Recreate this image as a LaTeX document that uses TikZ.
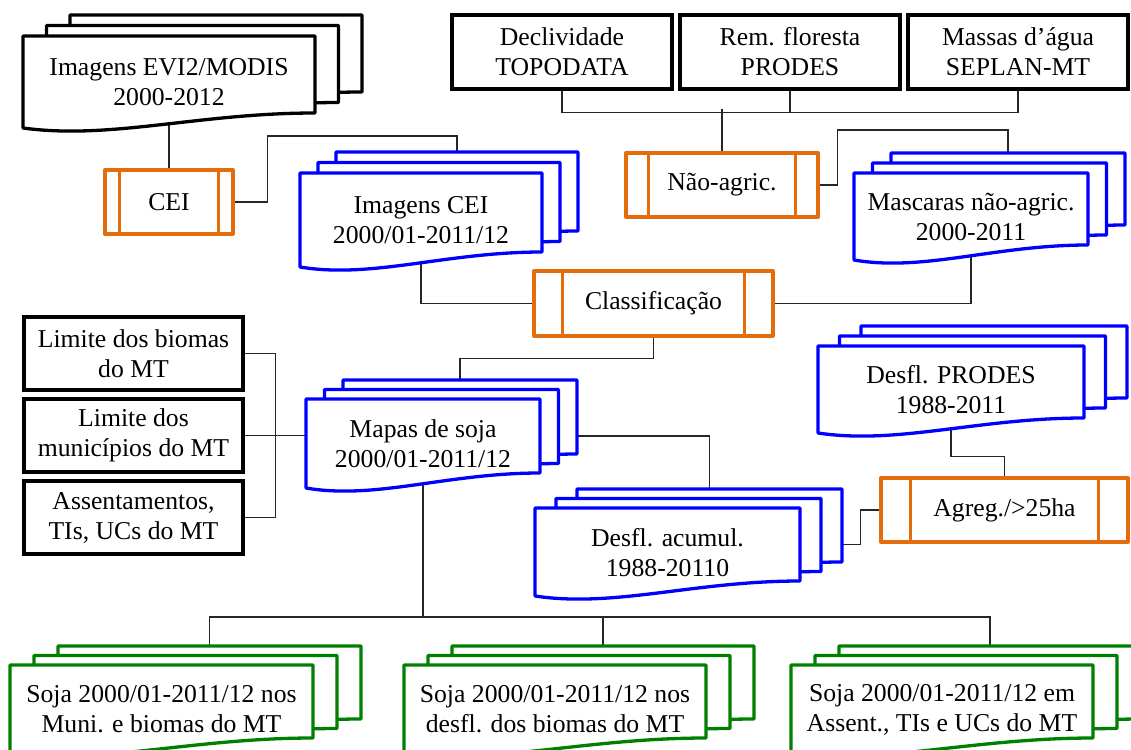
\documentclass[tikz,border=0pt]{standalone}
\usepackage{fontspec}
\setmainfont{Liberation Serif}
\usetikzlibrary{calc}
\pgfdeclarelayer{bg}
\pgfsetlayers{bg,main}
\definecolor{procorange}{RGB}{228,108,10}
\definecolor{docblue}{RGB}{0,0,255}
\definecolor{docgreen}{RGB}{0,128,0}
\tikzset{
  conn/.style={draw=black!85, line width=1.1pt},
  boxline/.style={line width=3.3pt, line join=round},
  txt/.style={align=center, inner sep=0pt, font=\fontsize{25.7}{30}\selectfont},
  datbox/.style={draw=black, line width=3.3pt, fill=white, inner sep=0pt, align=center, font=\fontsize{25.7}{30}\selectfont},
}
% #1 name, #2 L, #3 T, #4 R, #5 B(right), #6 dx, #7 dy, #8 colour, #9 text
\newcommand\docstack[9]{%
  \foreach \k in {2,1,0}{%
    \draw[boxline, draw=#8, fill=white, shift={(\k*#6,-\k*#7)}]
      (#2,#3) -- (#4,#3) -- (#4,#5)
      .. controls ({#2+0.6*(#4-#2)},#5) and ({#2+0.3*(#4-#2)},#5+27) .. (#2,#5+15) -- cycle;
  }%
  \pgfmathsetmacro\sw{#4-#2}%
  \pgfmathsetmacro\sh{#5-#3}%
  \pgfmathsetmacro\cx{(#2+#4)/2}%
  \pgfmathsetmacro\cy{(#3+#5)/2}%
  \node[name=#1, rectangle, inner sep=0pt, minimum width=\sw pt, minimum height=\sh pt] at (\cx,\cy) {};
  \node[txt, name=#1-t] at (\cx,\cy+8) {#9};
  \coordinate (#1-top) at ({\cx+2*#6},{#3-2*#7});
  \coordinate (#1-r) at ({#4+2*#6},\cy);
}
% #1 name, #2 L, #3 T, #4 R, #5 B, #6 text
\newcommand\procbox[6]{%
  \pgfmathsetmacro\pw{#4-#2}%
  \pgfmathsetmacro\ph{#5-#3}%
  \pgfmathsetmacro\pin{0.125*(#4-#2)}%
  \node[name=#1, draw=procorange, boxline, fill=white, minimum width=\pw pt, minimum height=\ph pt, txt] at ({(#2+#4)/2},{(#3+#5)/2}) {#6};
  \draw[boxline, draw=procorange] ([xshift=\pin pt]#1.north west) -- ([xshift=\pin pt]#1.south west)
     ([xshift=-\pin pt]#1.north east) -- ([xshift=-\pin pt]#1.south east);
}
\begin{document}
\begin{tikzpicture}[x=1pt,y=-1pt]
\useasboundingbox (0,0) rectangle (1131,749);
\clip (0,0) rectangle (1131,749);

% data boxes
\node[datbox, minimum width=220pt, minimum height=74pt] (decl) at (562,52) {Declividade\\TOPODATA};
\node[datbox, minimum width=220pt, minimum height=74pt] (rem) at (790,52) {Rem. floresta\\PRODES};
\node[datbox, minimum width=220pt, minimum height=74pt] (massas) at (1018,52) {Massas d’água\\SEPLAN-MT};
\node[datbox, minimum width=219pt, minimum height=73pt] (lbio) at (133.5,353.5) {Limite dos biomas\\do MT};
\node[datbox, minimum width=219pt, minimum height=73pt] (lmun) at (133.5,435.5) {Limite dos\\municípios do MT};
\node[datbox, minimum width=219pt, minimum height=73pt] (lass) at (133.5,517.5) {Assentamentos,\\TIs, UCs do MT};

% stacks
\docstack{evi}{23}{36}{315}{113}{23.5}{10.5}{black}{Imagens EVI2/MODIS\\2000-2012}
\docstack{imgcei}{300}{173}{542}{252}{18}{10.5}{docblue}{Imagens CEI\\2000/01-2011/12}
\docstack{masc}{854}{173}{1088}{245}{18.5}{10}{docblue}{Mascaras não-agric.\\2000-2011}
\docstack{mapas}{306}{399}{540}{473}{18.5}{9.5}{docblue}{Mapas de soja\\2000/01-2011/12}
\docstack{prodes}{818}{346}{1084}{418}{21.5}{10}{docblue}{Desfl. PRODES\\1988-2011}
\docstack{acum}{535}{508}{800}{581}{21}{9.5}{docblue}{Desfl. acumul.\\1988-20110}
\docstack{gA}{10}{665}{313}{738}{24}{9.5}{docgreen}{Soja 2000/01-2011/12 nos\\Muni. e biomas do MT}
\docstack{gB}{404}{665}{706}{738}{24}{9.5}{docgreen}{Soja 2000/01-2011/12 nos\\desfl. dos biomas do MT}
\docstack{gC}{791}{665}{1093}{738}{24}{9.5}{docgreen}{Soja 2000/01-2011/12 em\\Assent., TIs e UCs do MT}

% processes
\procbox{cei}{105}{170}{233}{234}{CEI}
\procbox{nao}{626}{153}{818}{217}{Não-agric.}
\procbox{clas}{534}{271}{773}{336}{Classificação}
\procbox{agreg}{881}{478}{1128}{542}{Agreg./>25ha}

\begin{pgfonlayer}{bg}
\draw[conn] (evi.south) -- (cei.north);
\draw[conn] (cei.east) -| ++(33,-66) -| (imgcei-top);
\draw[conn] (decl.south) -- ++(0,22) -| (massas.south);
\draw[conn] (rem.south) -- ++(0,22);
\draw[conn] (nao.north) -- ++(0,-42);
\draw[conn] (nao.east) -| ++(18,-55) -| (masc-top);
\draw[conn] (imgcei.south) |- (clas.west);
\draw[conn] (clas.east) -| (masc.south);
\draw[conn] (clas.south) -- ++(0,21) -| (mapas-top);
\draw[conn] (lbio.east) -- ++(31,0) |- (lass.east);
\draw[conn] (lmun.east) -- (lmun.east -| mapas.west);
\draw[conn] (mapas-r) -| (acum-top);
\draw[conn] (prodes.south) -- ++(0,38) -| (agreg.north);
\draw[conn] (agreg.west) -- ++(-19,0) |- (acum-r);
\draw[conn] (mapas.south) -- ++(0,144);
\draw[conn] (gA-top) -- ++(0,-29) -| (gC-top);
\draw[conn] (gB-top) -- ++(0,-29);
\end{pgfonlayer}
\end{tikzpicture}
\end{document}
